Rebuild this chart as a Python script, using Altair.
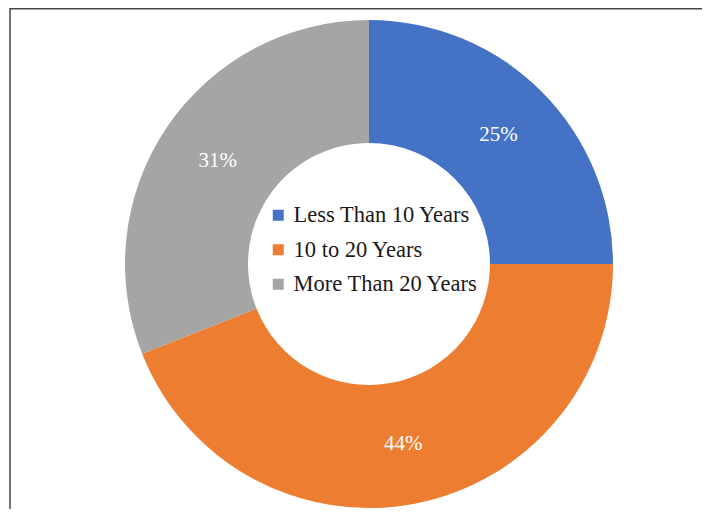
import altair as alt
import pandas as pd

categories = ["Less Than 10 Years", "10 to 20 Years", "More Than 20 Years"]
values = [25, 44, 31]
labels = ["25%", "44%", "31%"]
colors = ["#4472C4", "#ED7D31", "#A5A5A5"]

df = pd.DataFrame({
    "category": categories,
    "value": values,
    "label": labels,
    "order": list(range(len(categories))),
})

CX, CY = 361, 256
R_OUT, R_IN = 244, 121

base = alt.Chart(df).encode(
    theta=alt.Theta("value:Q", stack=True),
    order=alt.Order("order:Q"),
    x=alt.value(CX),
    y=alt.value(CY),
)

arcs = base.mark_arc(outerRadius=R_OUT, innerRadius=R_IN, stroke=None).encode(
    color=alt.Color(
        "category:N",
        scale=alt.Scale(domain=categories, range=colors),
        sort=categories,
        legend=alt.Legend(
            title=None,
            orient="none",
            legendX=259,
            legendY=196,
            symbolType="square",
            symbolSize=121,
            symbolStrokeWidth=0,
            symbolOpacity=1,
            labelFont="Liberation Serif",
            labelFontSize=22.5,
            labelColor="#1a1a1a",
            labelOffset=4,
            rowPadding=11.5,
            labelLimit=400,
        ),
    )
)

text = base.mark_text(
    radius=183,
    font="Liberation Serif",
    fontSize=21,
    color="white",
    align="center",
    baseline="middle",
).encode(text="label:N")

border_top = alt.Chart(pd.DataFrame({"a": [0]})).mark_rule(
    color="#444444", strokeWidth=1.5
).encode(x=alt.value(2), x2=alt.value(702), y=alt.value(0.75))

border_left = alt.Chart(pd.DataFrame({"a": [0]})).mark_rule(
    color="#444444", strokeWidth=1.5
).encode(x=alt.value(2), y=alt.value(0), y2=alt.value(509))

chart = alt.layer(arcs, text, border_top, border_left).properties(
    width=694,
    height=501,
    padding=0,
    autosize=alt.AutoSizeParams(type="none"),
    background="white",
).configure_view(stroke=None)

chart.save("out.html", embed_options={"renderer": "svg", "actions": False})
